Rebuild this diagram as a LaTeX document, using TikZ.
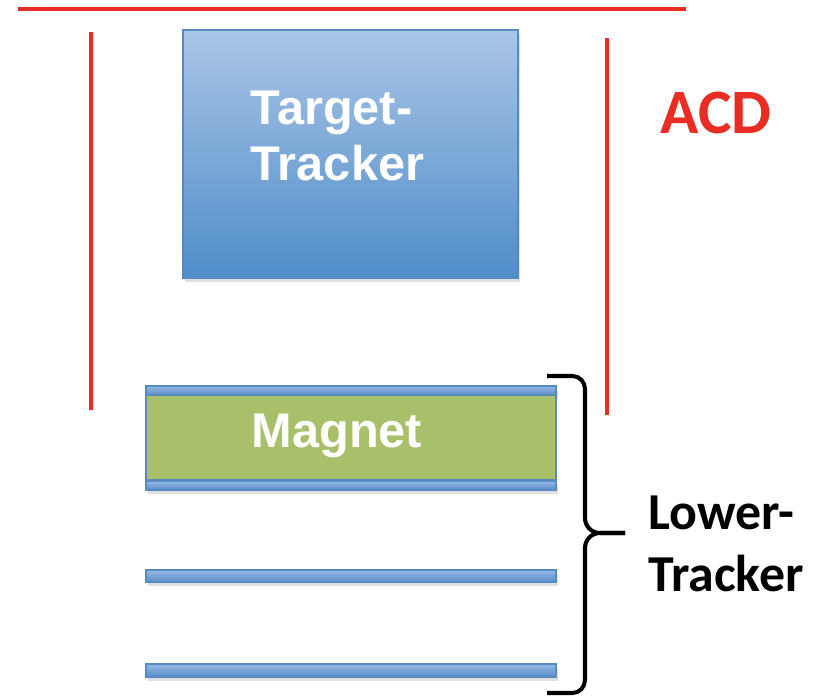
\documentclass[tikz,border=0pt]{standalone}
\usepackage{fontspec}
\setmainfont{Liberation Sans}
\newfontfamily\calfont{Carlito}
\usetikzlibrary{shadows}
\definecolor{acdred}{RGB}{232,46,36}
\definecolor{boxtop}{RGB}{170,197,230}
\definecolor{boxbot}{RGB}{79,141,201}
\definecolor{boxline}{RGB}{86,138,193}
\definecolor{magfill}{RGB}{169,192,106}
\definecolor{bartop}{RGB}{150,185,230}
\definecolor{barbot}{RGB}{88,140,200}
\begin{document}
\begin{tikzpicture}[
  redline/.style={draw=acdred, line width=2.8pt},
  bar/.style={rectangle, draw=boxline, line width=0.8pt, top color=bartop, bottom color=barbot,
    minimum width=8.2cm, inner sep=0pt, drop shadow={opacity=0.25, shadow xshift=1pt, shadow yshift=-2pt}},
  whitetext/.style={text=white, font=\bfseries\fontsize{27.7}{32}\selectfont, align=left, inner sep=0pt},
  blacktext/.style={font=\calfont\bfseries\fontsize{29.5}{35.5}\selectfont, align=left, inner sep=0pt}
]
\useasboundingbox (0,0) rectangle (16.5,-13.9);
% anticoincidence detector
\draw[redline] (0.36,-0.18) -- (13.72,-0.18);
\draw[redline] (1.82,-0.64) -- (1.82,-8.2);
\draw[redline] (12.14,-0.76) -- (12.14,-8.3);
\node[text=acdred, font=\calfont\bfseries\fontsize{36}{40}\selectfont, inner sep=0pt] (acd) at (14.32,-2.25){ACD};
% target tracker
\node[rectangle, draw=boxline, line width=0.8pt, top color=boxtop, bottom color=boxbot,
  minimum width=6.7cm, minimum height=4.96cm,
  drop shadow={opacity=0.25, shadow xshift=1pt, shadow yshift=-2pt}] (tt) at (7.01,-3.08){};
\node[whitetext] (ttlabel) at (6.75,-2.72){Target-\\Tracker};
% magnet with its tracker planes
\node[bar, minimum height=0.18cm] (bar0) at (7.02,-7.81){};
\node[bar, minimum height=0.18cm] (bar1) at (7.02,-9.71){};
\node[rectangle, draw=boxline, line width=0.8pt, fill=magfill,
  minimum width=8.2cm, minimum height=1.7cm] (mag) at (7.02,-8.75){};
\node[whitetext] (maglabel) at (6.74,-8.72){Magnet};
\node[bar, minimum height=0.24cm] (bar2) at (7.02,-11.52){};
\node[bar, minimum height=0.26cm] (bar3) at (7.02,-13.41){};
% lower tracker brace
\coordinate (btop) at (10.94,-7.52);
\coordinate (bbot) at (10.94,-13.86);
\coordinate (btip) at (12.5,-10.66);
\draw[line width=2.3pt] (btop) -- (11.45,-7.52) to[out=0,in=90] (11.7,-7.78) -- (11.7,-10.36)
  to[out=-90,in=180] (12.0,-10.66) -- (btip);
\draw[line width=2.3pt] (btip) -- (12.0,-10.66) to[out=180,in=90] (11.7,-10.96) -- (11.7,-13.6)
  to[out=-90,in=0] (11.45,-13.86) -- (bbot);
\node[blacktext, anchor=west] (lower) at (12.96,-10.88){Lower-\\Tracker};
\end{tikzpicture}
\end{document}
